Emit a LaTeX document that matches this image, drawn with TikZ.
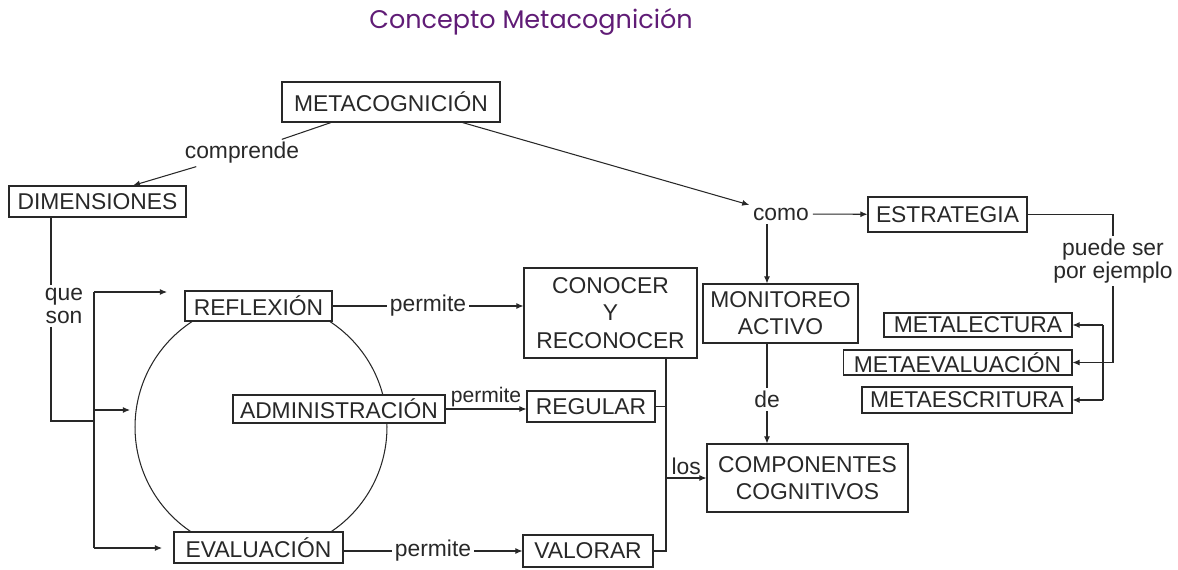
\documentclass[tikz,border=0pt]{standalone}
\usepackage{fontspec}
\setmainfont{Liberation Sans}
\newfontfamily\titlefont{Poppins}
\usetikzlibrary{arrows.meta}
\definecolor{ink}{RGB}{40,40,40}
\definecolor{titlepurple}{RGB}{96,28,118}
\begin{document}
\begin{tikzpicture}[x=0.02cm,y=-0.02cm,
  every node/.style={font=\fontsize{13}{15.5}\selectfont, text=ink},
  box/.style={draw=ink, line width=0.6pt, fill=white, inner sep=0pt, align=center},
  lbl/.style={inner sep=1.5pt, align=center},
  tight/.style={font=\fontsize{13}{13}\selectfont},
  link/.style={draw=ink, line width=0.6pt},
  arr/.style={link, -{Latex[length=4pt,width=3.4pt]}}]
\useasboundingbox (0,0) rectangle (1178,569);

% title
\node[font=\titlefont\fontsize{14.5}{17}\selectfont, text=titlepurple] (title) at (531,22) {Concepto Metacognición};

% the cycle of the three dimensions, drawn under the boxes
\draw[link] (261,427) circle[radius=2.52cm];

% concept boxes
\node[box, minimum width=4.36cm, minimum height=0.80cm] (meta) at (391,102) {METACOGNICIÓN};
\node[box, minimum width=3.54cm, minimum height=0.62cm] (dim) at (97.5,201.5) {DIMENSIONES};
\node[box, minimum width=3.18cm, minimum height=0.70cm] (estr) at (947.5,214.5) {ESTRATEGIA};
\node[box, minimum width=3.10cm, minimum height=1.18cm] (monit) at (780.5,313.5) {MONITOREO\\ACTIVO};
\node[box, minimum width=3.46cm, minimum height=1.80cm] (conocer) at (610.5,313) {CONOCER\\Y\\RECONOCER};
\node[box, minimum width=3.76cm, minimum height=0.48cm] (mlect) at (978,325) {METALECTURA};
\node[box, minimum width=4.58cm, minimum height=0.50cm] (meval) at (957.5,362.5) {METAEVALUACIÓN};
\node[box, minimum width=4.20cm, minimum height=0.52cm] (mescr) at (967,400) {METAESCRITURA};
\node[box, minimum width=2.94cm, minimum height=0.60cm] (refl) at (258.5,306) {REFLEXIÓN};
\node[box, minimum width=4.24cm, minimum height=0.56cm] (admin) at (339,409) {ADMINISTRACIÓN};
\node[box, minimum width=3.38cm, minimum height=0.62cm] (eval) at (258.5,547.5) {EVALUACIÓN};
\node[box, minimum width=2.56cm, minimum height=0.62cm] (regular) at (591,406.5) {REGULAR};
\node[box, minimum width=2.60cm, minimum height=0.64cm] (valorar) at (588,551) {VALORAR};
\node[box, minimum width=4.02cm, minimum height=1.36cm] (comp) at (807.5,478) {COMPONENTES\\COGNITIVOS};

% linking words
\node[lbl] (compr) at (242,153) {comprende};
\node[lbl, inner sep=2pt] (como) at (781,214) {como};
\node[lbl, tight] (pde) at (1113,261) {puede ser\\por ejemplo};
\node[lbl, tight] (que) at (64,306) {que\\son};

% helper coordinates for the orthogonal connectors
\coordinate (lx) at (51,0);
\coordinate (qb) at (51,421);
\coordinate (bt) at (94,292);
\coordinate (rtip) at (167,292);
\coordinate (atip) at (130,410);
\coordinate (etip) at (162,548);
\coordinate (vx) at (767,0);
\coordinate (rx) at (666,0);
\coordinate (px) at (1113,0);
\coordinate (mx) at (1103,0);

% METACOGNICION branches
\draw[link] (meta) -- (compr);
\draw[arr] (compr) -- ([xshift=0.71cm]dim.north);
\draw[arr] (meta) -- (como);
\draw[arr] (como) -- (estr);
\draw[arr] (como.south -| vx) -- (monit.north -| vx);
\draw[arr] (monit.south -| vx) -- node[lbl, fill=white, pos=0.56] (de) {de} (comp.north -| vx);

% strategies
\draw[link] (estr.east) -- (estr.east -| px) -- (pde.north -| px);
\draw[arr] (pde.south -| px) -- (px |- meval.east) -- (meval.east);
\draw[arr] (mx |- mlect.east) -- (mlect.east);
\draw[link] (mx |- mlect.east) -- (mx |- mescr.east);
\draw[arr] (mx |- mescr.east) -- (mescr.east);

% dimensions
\draw[link] (dim.south -| lx) -- (que.north -| lx);
\draw[link] (que.south -| lx) -- (qb) -- (qb -| bt);
\draw[link] (bt) -- (bt |- etip);
\draw[arr] (bt) -- (rtip);
\draw[arr] (bt |- atip) -- (atip);
\draw[arr] (bt |- etip) -- (etip);

% what each dimension allows
\draw[arr] (refl.east) -- node[lbl, fill=white] (p1) {permite} (refl.east -| conocer.west);
\draw[arr] (admin.east) -- node[lbl, above, inner sep=1pt, font=\fontsize{12}{14}\selectfont] (p2) {permite} (admin.east -| regular.west);
\draw[arr] (eval.east |- valorar.west) -- node[lbl, fill=white] (p3) {permite} (valorar.west);

% towards the cognitive components
\draw[link] (conocer.south -| rx) -- (rx |- valorar.east) -- (valorar.east);
\draw[link] (regular.east) -- (regular.east -| rx);
\draw[arr] (comp.west -| rx) -- node[lbl, above] (los) {los} (comp.west);
\end{tikzpicture}
\end{document}
